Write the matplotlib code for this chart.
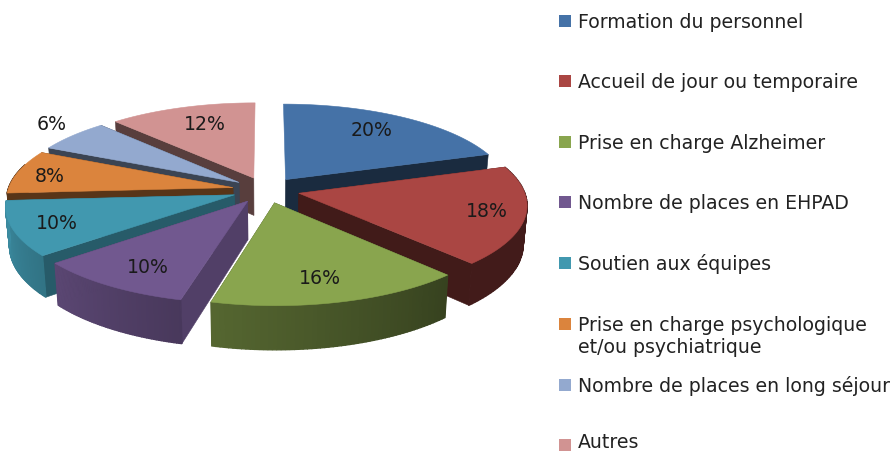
import numpy as np
import matplotlib
matplotlib.use("Agg")
import matplotlib.pyplot as plt
from matplotlib.patches import Polygon, Rectangle

# data
labels = ["Formation du personnel", "Accueil de jour ou temporaire", "Prise en charge Alzheimer",
          "Nombre de places en EHPAD", "Soutien aux équipes",
          "Prise en charge psychologique\net/ou psychiatrique",
          "Nombre de places en long séjour", "Autres"]
values = [20, 18, 16, 10, 10, 8, 6, 12]

# styles
colors = ["#4572A7", "#AA4643", "#89A54E", "#71588F", "#4198AF", "#DB843D", "#93A9CF", "#D19392"]
cut_shade = [0.38, 0.38, 0.45, 0.72, 0.60, 0.40, 0.40, 0.42]
rim_shade = [(0.40, 0.40), (0.39, 0.39), (0.40, 0.62), (0.64, 0.80), (0.76, 0.92),
             (0.40, 0.40), (0.40, 0.40), (0.42, 0.42)]
draw_order = [0, 7, 6, 5, 4, 3, 1, 2]
pct_pos = [(372, 131), (487, 212), (320, 279), (148, 268), (57, 224), (50, 177), (52, 124), (205, 124)]
legend_y = [21.5, 82, 142.5, 203, 264, 325, 386, 446]

# fake 3d pie geometry, pixels
cx, cy = 266, 191
rx, ry = 225, 87
persp = 0.121
explode = 0.15
depth = 38


def project(X, Y, z=0.0):
    s = 1 / (1 + persp * Y)
    x = rx * X * s * (1 - 0.015 * z)
    y = ry * -Y * s + depth * z * s
    return cx + x, cy + y


def side_quad(ax, p0, p1, col, lw=0.4):
    a = project(*p0)
    b = project(*p1)
    c = project(p1[0], p1[1], 1)
    d = project(p0[0], p0[1], 1)
    ax.add_patch(Polygon([a, b, c, d], closed=True, fc=col, ec=col, lw=lw))


fig = plt.figure(figsize=(8.94, 4.52), dpi=100)
ax = fig.add_axes([0, 0, 1, 1])
ax.set_xlim(0, 894)
ax.set_ylim(452, 0)
ax.axis("off")

edges = np.cumsum([0] + values) / sum(values) * 2 * np.pi
for i in draw_order:
    t0, t1 = edges[i], edges[i + 1]
    mid = (t0 + t1) / 2
    ox, oy = explode * np.sin(mid), explode * np.cos(mid)
    col = np.array(matplotlib.colors.to_rgb(colors[i]))
    t = np.linspace(t0, t1, 60)
    px = ox + np.sin(t)
    py = oy + np.cos(t)
    # cut faces first, then the curved wall, top goes last
    # the cut at 12 o'clock faces away so it is left out
    if abs(np.sin(t0)) > 1e-6:
        side_quad(ax, (ox, oy), (px[0], py[0]), col * cut_shade[i])
    if abs(np.sin(t1)) > 1e-6:
        side_quad(ax, (ox, oy), (px[-1], py[-1]), col * cut_shade[i])
    for j in range(len(t) - 1):
        # back half of the wall is hidden behind the top anyway
        if py[j] > 0.3 and py[j + 1] > 0.3:
            continue
        f = rim_shade[i][0] + (rim_shade[i][1] - rim_shade[i][0]) * j / (len(t) - 2)
        side_quad(ax, (px[j], py[j]), (px[j + 1], py[j + 1]), col * f, lw=1.0)
    top = [project(ox, oy)] + [project(a, b) for a, b in zip(px, py)]
    ax.add_patch(Polygon(top, closed=True, fc=colors[i], ec=colors[i], lw=0.4))

for v, (x, y) in zip(values, pct_pos):
    ax.text(x, y, "%d%%" % v, fontsize=13.6, color="#1a1a1a", ha="center", va="center", zorder=20)

for lab, col, y in zip(labels, colors, legend_y):
    ax.add_patch(Rectangle((559, y - 6), 12, 12, fc=col, ec="none"))
    for k, line in enumerate(lab.split("\n")):
        ax.text(578, min(y + 6.5, 448) + k * 22, line, fontsize=13.6, color="#222222", ha="left", va="baseline")

fig.savefig("out.png", dpi=100)
